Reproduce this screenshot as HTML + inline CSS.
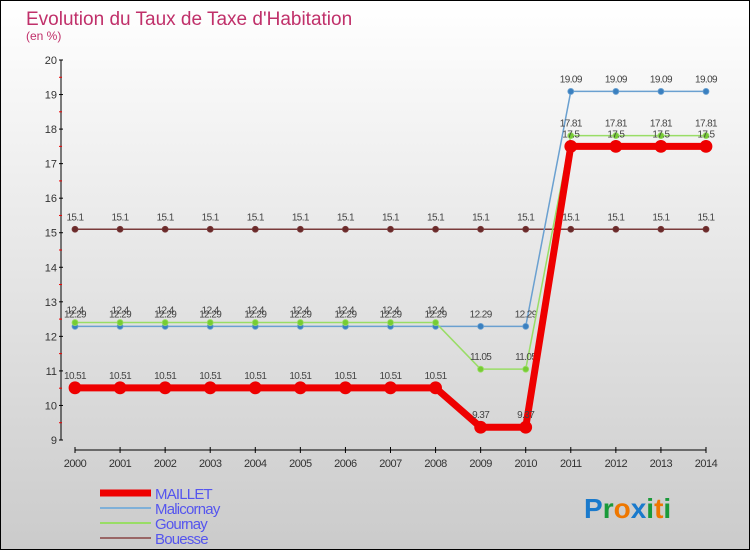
<!DOCTYPE html>
<html><head><meta charset="utf-8"><style>
html,body{margin:0;padding:0}
body{width:750px;height:550px;overflow:hidden;font-family:"Liberation Sans",sans-serif}
#wrap{position:relative;width:748px;height:548px;border:1px solid #000;background:linear-gradient(#ffffff,#cbcbcb)}
</style></head><body>
<div id="wrap">
<svg id="chart" width="748" height="548" style="position:absolute;left:0;top:0"></svg>
</div>
<script>
const years=[2000,2001,2002,2003,2004,2005,2006,2007,2008,2009,2010,2011,2012,2013,2014];
const maillet=[10.51,10.51,10.51,10.51,10.51,10.51,10.51,10.51,10.51,9.37,9.37,17.5,17.5,17.5,17.5];
const malicornay=[12.29,12.29,12.29,12.29,12.29,12.29,12.29,12.29,12.29,12.29,12.29,19.09,19.09,19.09,19.09];
const gournay=[12.4,12.4,12.4,12.4,12.4,12.4,12.4,12.4,12.4,11.05,11.05,17.81,17.81,17.81,17.81];
const bouesse=[15.1,15.1,15.1,15.1,15.1,15.1,15.1,15.1,15.1,15.1,15.1,15.1,15.1,15.1,15.1];
const yTicks=[9,10,11,12,13,14,15,16,17,18,19,20];
const seriesNames=["MAILLET","Malicornay","Gournay","Bouesse"];

const NS="http://www.w3.org/2000/svg";
const svg=document.getElementById('chart');
function X(i){return 74+i*(705-74)/(years.length-1);}
function Y(v){return 439-(v-9)*(380/11);}
function el(t,a,p){const e=document.createElementNS(NS,t);for(const k in a)e.setAttribute(k,a[k]);(p||svg).appendChild(e);return e;}
function txt(s,a){const e=el('text',a);e.textContent=s;return e;}

let t=txt("Evolution du Taux de Taxe d'Habitation",{x:25,y:24,'font-size':19,fill:'#c0306a'});

t=txt("(en %)",{x:25,y:39,'font-size':12,fill:'#c0306a'});


let ya=el('line',{x1:60,y1:Y(20),x2:60,y2:Y(9),stroke:'#000','stroke-width':1});

yTicks.forEach(v=>{
  el('line',{x1:58,y1:Y(v),x2:62,y2:Y(v),stroke:'#000'});
  if(v<20)el('line',{x1:58,y1:Y(v+0.5),x2:61,y2:Y(v+0.5),stroke:'#e00'});
  let l=txt(String(v),{x:56,y:Y(v)+4,'font-size':11,fill:'#333','text-anchor':'end'});
  
});
let xa=el('line',{x1:X(0),y1:449,x2:X(14),y2:449,stroke:'#000'});

years.forEach((y,i)=>{
  el('line',{x1:X(i),y1:446,x2:X(i),y2:452,stroke:'#000'});
  let l=txt(String(y),{x:X(i),y:466,'font-size':11,fill:'#333','text-anchor':'middle','letter-spacing':'-0.5'});
  
});

function series(data,color,w,r,name,dotFill){
  const g=el('g',{});
  
  el('polyline',{points:data.map((v,i)=>X(i)+','+Y(v)).join(' '),fill:'none',stroke:color,'stroke-width':w,'stroke-linejoin':'round'},g);
  data.forEach((v,i)=>{
    const c=el('circle',{cx:X(i),cy:Y(v),r:r,fill:dotFill,stroke:color,'stroke-width':0.8},g);
    
    const l=txt(String(v),{x:X(i),y:Y(v)-9,'font-size':10,fill:'#444','text-anchor':'middle','letter-spacing':'-0.6'});
    
  });
}
series(bouesse,'#7a3b3b',1.5,3,'bouesse','#6a2a2a');
series(malicornay,'#6aa0d0',1.5,3,'malicornay','#3a80c0');
series(gournay,'#99dd66',1.5,3,'gournay','#77cc33');
series(maillet,'#ee0000',7,6,'maillet','#ee0000');

const lc=['#ee0000','#7fb0d8','#99dd66','#996666'];
const lw=[7,2,2,2];
seriesNames.forEach((n,i)=>{
  const y=492+i*15;
  const g=el('g',{});
  
  el('line',{x1:99,y1:y,x2:150,y2:y,stroke:lc[i],'stroke-width':lw[i]},g);
  const l=el('text',{x:154,y:y+6,'font-size':15,fill:'#5555ee','letter-spacing':'-0.8'},g);
  l.textContent=n;
});

const lg=el('text',{x:583,y:517,'font-size':28,'font-weight':'bold'});

[['P','#1a7acc'],['r','#1a9a3a'],['o','#ee7700'],['x','#1a7acc'],['i','#1a9a3a'],['t','#ee7700'],['i','#1a9a3a']].forEach(([c,f])=>{const s=el('tspan',{fill:f},lg);s.textContent=c;});
</script>
</body></html>
